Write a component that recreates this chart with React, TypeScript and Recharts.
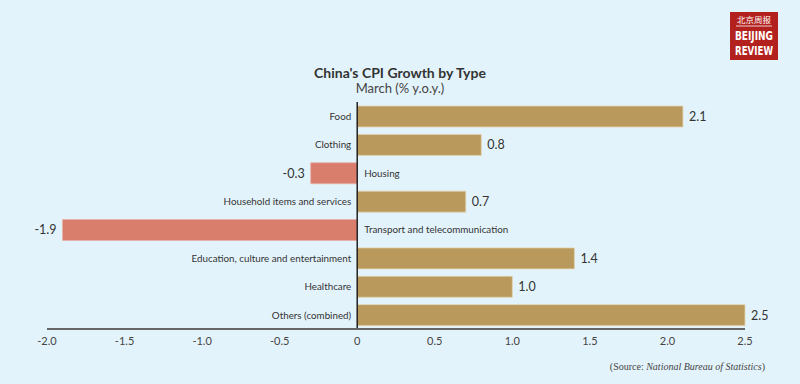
import { Bar, BarChart, Cell, LabelList, ReferenceLine, XAxis, YAxis } from "recharts";

const categories = [
  "Food",
  "Clothing",
  "Housing",
  "Household items and services",
  "Transport and telecommunication",
  "Education, culture and entertainment",
  "Healthcare",
  "Others (combined)",
];
const growth = [2.1, 0.8, -0.3, 0.7, -1.9, 1.4, 1.0, 2.5];
const xTicks = [-2, -1.5, -1, -0.5, 0, 0.5, 1, 1.5, 2, 2.5];

const POS = "#b99a5c";
const NEG = "#d97d6d";

const data = categories.map((name, i) => ({ name, value: growth[i] }));

const fmtTick = (v: number) => (v === 0 ? "0" : v.toFixed(1));

function BarLabels(props: any) {
  const { x, y, width, height, index } = props;
  const v = growth[index];
  const a = Number(x);
  const b = Number(x) + Number(width);
  const left = Math.min(a, b);
  const right = Math.max(a, b);
  const zero = v >= 0 ? left : right;
  const cy = Number(y) + Number(height) / 2;
  const font = "Lato, 'Open Sans', sans-serif";
  return (
    <g>
      <text
        x={v >= 0 ? zero - 6 : zero + 7}
        y={cy}
        dy="0.35em"
        textAnchor={v >= 0 ? "end" : "start"}
        fontSize={9.8}
        fontFamily={font}
        fill="#333"
      >
        {categories[index]}
      </text>
      <text
        x={v >= 0 ? right + 6 : left - 6}
        y={cy}
        dy="0.35em"
        textAnchor={v >= 0 ? "start" : "end"}
        fontSize={12.5}
        fontFamily={font}
        fill="#333"
      >
        {v.toFixed(1)}
      </text>
    </g>
  );
}

function Logo() {
  const narrow = "'Liberation Sans Narrow', 'DejaVu Sans Condensed', sans-serif";
  return (
    <svg width={48} height={48} style={{ position: "absolute", left: 730, top: 12 }}>
      <rect width={48} height={48} fill="#b3211e" />
      <text x={24} y={11} textAnchor="middle" fontSize={7.5} fill="#fff" fontFamily="'Noto Sans CJK SC'" textLength={34} lengthAdjust="spacingAndGlyphs">
        北京周报
      </text>
      <line x1={6} x2={42} y1={14} y2={14} stroke="#fff" strokeWidth={0.8} />
      <g transform="translate(24 28) scale(1 1.1)">
        <text x={0} y={0} textAnchor="middle" fontSize={11} fontWeight={700} fill="#fff" fontFamily={narrow} textLength={38} lengthAdjust="spacingAndGlyphs">
          BEIJING
        </text>
      </g>
      <g transform="translate(24 43) scale(1 1.1)">
        <text x={0} y={0} textAnchor="middle" fontSize={11} fontWeight={700} fill="#fff" fontFamily={narrow} textLength={38} lengthAdjust="spacingAndGlyphs">
          REVIEW
        </text>
      </g>
    </svg>
  );
}

export default function App() {
  return (
    <div
      style={{
        position: "absolute",
        left: 0,
        top: 0,
        width: 800,
        height: 384,
        background: "#e3f3fb",
        fontFamily: "Lato, 'Open Sans', sans-serif",
        overflow: "hidden",
      }}
    >
      <div
        style={{
          position: "absolute",
          left: 0,
          width: 800,
          top: 65,
          lineHeight: "16px",
          textAlign: "center",
          fontWeight: 700,
          fontSize: 14,
          color: "#333",
        }}
      >
        China's CPI Growth by Type
      </div>
      <div
        style={{
          position: "absolute",
          left: 0,
          width: 800,
          top: 81,
          lineHeight: "15px",
          textAlign: "center",
          fontSize: 13,
          color: "#444",
        }}
      >
        March (% y.o.y.)
      </div>

      <Logo />

      <div style={{ position: "absolute", left: 0, top: 0 }}>
        <BarChart
          width={800}
          height={384}
          data={data}
          layout="vertical"
          margin={{ top: 102, right: 55, bottom: 25, left: 47 }}
          barSize={21}
        >
          <XAxis
            type="number"
            domain={[-2, 2.5]}
            ticks={xTicks}
            tickFormatter={fmtTick}
            interval={0}
            tickLine={false}
            axisLine={{ stroke: "#666", strokeWidth: 2 }}
            tick={{ fontSize: 11, fill: "#444", fontFamily: "Lato, sans-serif" }}
            height={30}
          />
          <YAxis type="category" dataKey="name" hide />
          <Bar dataKey="value" isAnimationActive={false} strokeWidth={0.8}>
            {data.map((d, i) => (
              <Cell key={i} fill={d.value >= 0 ? POS : NEG} stroke={d.value >= 0 ? "#e2d3b2" : "#eab0a6"} />
            ))}
            <LabelList dataKey="value" content={BarLabels} />
          </Bar>
          <ReferenceLine x={0} stroke="#222" strokeWidth={1.5} />
        </BarChart>
      </div>

      <div
        style={{
          position: "absolute",
          right: 35,
          top: 361,
          fontFamily: "'Liberation Serif', serif",
          fontSize: 10,
          color: "#444",
        }}
      >
        (Source: <i>National Bureau of Statistics</i>)
      </div>
    </div>
  );
}
